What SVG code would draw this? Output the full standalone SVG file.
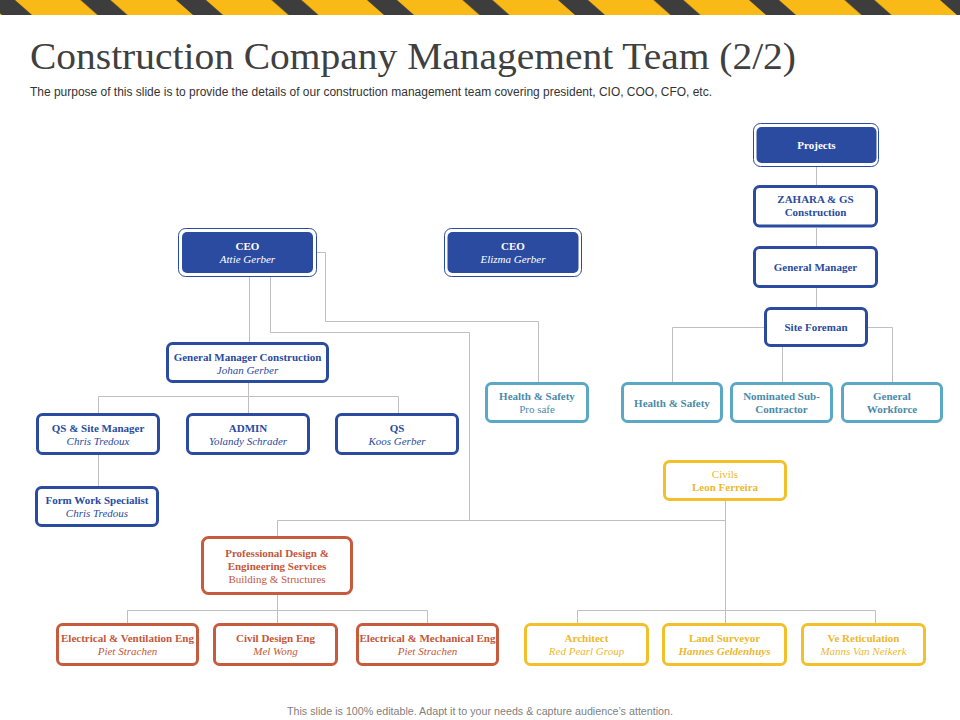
<svg xmlns="http://www.w3.org/2000/svg" width="960" height="720" viewBox="0 0 960 720">
<defs>
<pattern id="stripes" patternUnits="userSpaceOnUse" x="0" y="0" width="95.5" height="15">
<rect width="95.5" height="15" fill="#F9BA17"/>
<polygon points="-15,0 15,0 32,15 2,15" fill="#3D3D3D"/>
<polygon points="80.5,0 110.5,0 127.5,15 97.5,15" fill="#3D3D3D"/>
</pattern>
<style>
.conn{fill:none;stroke:#BFBFBF;stroke-width:1}
.b{fill:#fff;stroke:#2A4B9F;stroke-width:3}
.t{fill:#fff;stroke:#5BA8C6;stroke-width:3}
.r{fill:#fff;stroke:#C65B3E;stroke-width:3}
.y{fill:#fff;stroke:#F3BF2B;stroke-width:3}
.outer{fill:#fff;stroke:#2A4B9F;stroke-width:1}
.inner{fill:#2A4B9F}
text{font-family:"Liberation Serif","Times New Roman",serif;font-size:11px;text-anchor:middle}
.h{font-weight:bold}
.i{font-style:italic}
.bt{fill:#2A4B9F}
.wt{fill:#fff}
.tt{fill:#4A8BAA}
.rt{fill:#C4573B}
.yt{fill:#EDB82F}
</style>
</defs>
<rect x="0" y="0" width="960" height="720" fill="#fff"/>
<rect x="0" y="0" width="960" height="15" fill="url(#stripes)"/>
<text x="30" y="69" style="font-family:'Liberation Serif','Times New Roman',serif;font-size:38px;text-anchor:start;fill:#404040" textLength="766" lengthAdjust="spacingAndGlyphs">Construction Company Management Team (2/2)</text>
<text x="30" y="96" style="font-family:'Liberation Sans',Arial,sans-serif;font-size:12.5px;text-anchor:start;fill:#333" textLength="682" lengthAdjust="spacingAndGlyphs">The purpose of this slide is to provide the details of our construction management team covering president, CIO, COO, CFO, etc.</text>
<text x="287" y="715" style="font-family:'Liberation Sans',Arial,sans-serif;font-size:11px;text-anchor:start;fill:#7F7F7F" textLength="386" lengthAdjust="spacingAndGlyphs">This slide is 100% editable. Adapt it to your needs &amp; capture audience’s attention.</text>

<g id="connectors">
<path class="conn" d="M249.5,277 V342"/>
<path class="conn" d="M270.5,277 V332.5 H469.5 V520.5"/>
<path class="conn" d="M277.5,520.5 H725.5"/>
<path class="conn" d="M277.5,520.5 V536"/>
<path class="conn" d="M725.5,501 V610.5"/>
<path class="conn" d="M577.5,623 V610.5 H875.5 V623"/>
<path class="conn" d="M725.5,610.5 V623"/>
<path class="conn" d="M277.5,595 V623"/>
<path class="conn" d="M127.5,623 V610.5 H427.5 V623"/>
<path class="conn" d="M317,252.5 H325.5 V321.5 H538.5 V382"/>
<path class="conn" d="M248.5,383 V413"/>
<path class="conn" d="M98.5,413 V396.5 H398.5 V413"/>
<path class="conn" d="M98.5,455 V486"/>
<path class="conn" d="M816.5,167 V185"/>
<path class="conn" d="M816.5,228 V246"/>
<path class="conn" d="M816.5,288 V307"/>
<path class="conn" d="M764,327.5 H672.5 V382"/>
<path class="conn" d="M868,327.5 H892.5 V382"/>
<path class="conn" d="M782.5,347 V382"/>
</g>

<g id="ceo-attie">
<rect class="outer" x="178.5" y="228.5" width="138" height="48" rx="7"/>
<rect class="inner" x="182" y="232" width="131" height="41" rx="5"/>
<text class="h wt" x="247.5" y="250">CEO</text>
<text class="i wt" x="247.5" y="263">Attie Gerber</text>
</g>
<g id="ceo-elizma">
<rect class="outer" x="444.5" y="228.5" width="137" height="48" rx="7"/>
<rect class="inner" x="447.5" y="232" width="131" height="41" rx="5"/>
<text class="h wt" x="513" y="250">CEO</text>
<text class="i wt" x="513" y="263">Elizma Gerber</text>
</g>
<g id="projects">
<rect class="outer" x="753.5" y="123.5" width="125" height="43" rx="7"/>
<rect class="inner" x="756.5" y="127" width="120" height="36" rx="5"/>
<text class="h wt" x="816.5" y="148.5">Projects</text>
</g>
<g id="zahara">
<rect class="b" x="754.5" y="186.5" width="122" height="39.5" rx="5"/>
<text class="h bt" x="815.5" y="203">ZAHARA &amp; GS</text>
<text class="h bt" x="815.5" y="216">Construction</text>
</g>
<g id="general-manager">
<rect class="b" x="754.5" y="247.5" width="122" height="39" rx="5"/>
<text class="h bt" x="815.5" y="270.5">General Manager</text>
</g>
<g id="site-foreman">
<rect class="b" x="765.5" y="308.5" width="101" height="37" rx="5"/>
<text class="h bt" x="816" y="330.5">Site Foreman</text>
</g>
<g id="hs-right">
<rect class="t" x="622.5" y="383.5" width="99" height="38" rx="5"/>
<text class="h tt" x="672" y="406.5">Health &amp; Safety</text>
</g>
<g id="nominated">
<rect class="t" x="731.5" y="383.5" width="100" height="38" rx="5"/>
<text class="h tt" x="781.5" y="400">Nominated Sub-</text>
<text class="h tt" x="781.5" y="412.5">Contractor</text>
</g>
<g id="workforce">
<rect class="t" x="842.5" y="383.5" width="99" height="38" rx="5"/>
<text class="h tt" x="892" y="400">General</text>
<text class="h tt" x="892" y="412.5">Workforce</text>
</g>
<g id="hs-prosafe">
<rect class="t" x="486.5" y="383.5" width="101" height="38" rx="5"/>
<text class="h tt" x="537" y="400">Health &amp; Safety</text>
<text class="tt" x="537" y="412.5">Pro safe</text>
</g>
<g id="gm-construction">
<rect class="b" x="167.5" y="343.5" width="160" height="38" rx="5"/>
<text class="h bt" x="247.5" y="360.5">General Manager Construction</text>
<text class="i bt" x="247.5" y="373.5">Johan Gerber</text>
</g>
<g id="qs-site-manager">
<rect class="b" x="37.5" y="414.5" width="121" height="39" rx="5"/>
<text class="h bt" x="98" y="432">QS &amp; Site Manager</text>
<text class="i bt" x="98" y="445">Chris Tredoux</text>
</g>
<g id="admin">
<rect class="b" x="187.5" y="414.5" width="121" height="39" rx="5"/>
<text class="h bt" x="248" y="432">ADMIN</text>
<text class="i bt" x="248" y="445">Yolandy Schrader</text>
</g>
<g id="qs">
<rect class="b" x="336.5" y="414.5" width="121" height="39" rx="5"/>
<text class="h bt" x="397" y="432">QS</text>
<text class="i bt" x="397" y="445">Koos Gerber</text>
</g>
<g id="form-work">
<rect class="b" x="36.5" y="487.5" width="121" height="38" rx="5"/>
<text class="h bt" x="97" y="504">Form Work Specialist</text>
<text class="i bt" x="97" y="517">Chris Tredous</text>
</g>
<g id="civils">
<rect class="y" x="664.5" y="461.5" width="121" height="38" rx="5"/>
<text class="yt" x="725" y="478">Civils</text>
<text class="h yt" x="725" y="491">Leon Ferreira</text>
</g>
<g id="professional-design">
<rect class="r" x="202.5" y="537.5" width="149" height="56" rx="6"/>
<text class="h rt" x="277" y="557">Professional Design &amp;</text>
<text class="h rt" x="277" y="570">Engineering Services</text>
<text class="rt" x="277" y="582.5">Building &amp; Structures</text>
</g>
<g id="elec-vent">
<rect class="r" x="57.5" y="624.5" width="140" height="40" rx="5"/>
<text class="h rt" x="127.5" y="642">Electrical &amp; Ventilation Eng</text>
<text class="i rt" x="127.5" y="655">Piet Strachen</text>
</g>
<g id="civil-design">
<rect class="r" x="214.5" y="624.5" width="122" height="40" rx="5"/>
<text class="h rt" x="275.5" y="642">Civil Design Eng</text>
<text class="i rt" x="275.5" y="655">Mel Wong</text>
</g>
<g id="elec-mech">
<rect class="r" x="357.5" y="624.5" width="140" height="40" rx="5"/>
<text class="h rt" x="427.5" y="642">Electrical &amp; Mechanical Eng</text>
<text class="i rt" x="427.5" y="655">Piet Strachen</text>
</g>
<g id="architect">
<rect class="y" x="525.5" y="624.5" width="122" height="40" rx="5"/>
<text class="h yt" x="586.5" y="642">Architect</text>
<text class="i yt" x="586.5" y="655">Red Pearl Group</text>
</g>
<g id="land-surveyor">
<rect class="y" x="663.5" y="624.5" width="122" height="40" rx="5"/>
<text class="h yt" x="724.5" y="642">Land Surveyor</text>
<text class="h i yt" x="724.5" y="655">Hannes Geldenhuys</text>
</g>
<g id="ve-reticulation">
<rect class="y" x="802.5" y="624.5" width="122" height="40" rx="5"/>
<text class="h yt" x="863.5" y="642">Ve Reticulation</text>
<text class="i yt" x="863.5" y="655">Manns Van Neikerk</text>
</g>
</svg>
